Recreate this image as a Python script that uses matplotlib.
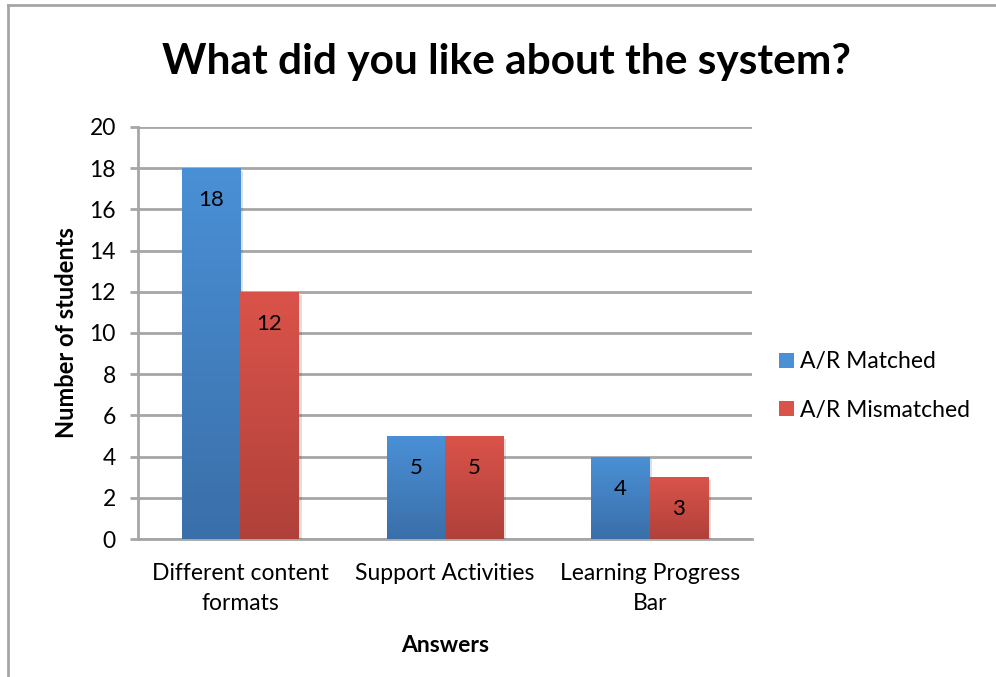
import matplotlib
matplotlib.use("Agg")
import matplotlib.pyplot as plt
import numpy as np
from matplotlib.colors import LinearSegmentedColormap
from matplotlib.lines import Line2D
from matplotlib.patches import Patch
import matplotlib.patheffects as pe

plt.rcParams['font.family'] = ['Lato', 'DejaVu Sans']

# data
categories = ["Different content\nformats", "Support Activities", "Learning Progress\nBar"]
matched = [18, 5, 4]
mismatched = [12, 5, 3]
series_names = ["A/R Matched", "A/R Mismatched"]

blue_top, blue_bot = "#4a90d6", "#3a6fa9"
red_top, red_bot = "#da534a", "#b0413a"
grid_col = "#a6a6a6"

fig = plt.figure(figsize=(9.96, 6.77), dpi=100)
ax = fig.add_axes([138 / 996, 1 - 539 / 677, (752 - 138) / 996, (539 - 127) / 677])

x = np.arange(len(categories))
w = 1 / 3.5

shadow = [pe.SimplePatchShadow(offset=(2, -2), shadow_rgbFace="#000000", alpha=0.12), pe.Normal()]
b1 = ax.bar(x - w / 2, matched, w, color=blue_top, zorder=3, path_effects=shadow)
b2 = ax.bar(x + w / 2, mismatched, w, color=red_top, zorder=3, path_effects=shadow)

grad = np.linspace(0, 1, 256).reshape(-1, 1)
for bars, top, bot in [(b1, blue_top, blue_bot), (b2, red_top, red_bot)]:
    cmap = LinearSegmentedColormap.from_list("g", [top, bot])
    for p in bars:
        x0, y0 = p.get_x(), p.get_y()
        x1, y1 = x0 + p.get_width(), y0 + p.get_height()
        im = ax.imshow(grad, extent=[x0, x1, y0, y1], aspect="auto", cmap=cmap,
                       origin="upper", zorder=3.5, interpolation="bilinear")
        im.set_clip_path(p)

for bars, vals in [(b1, matched), (b2, mismatched)]:
    for p, v in zip(bars, vals):
        ax.annotate(str(v), (p.get_x() + p.get_width() / 2, p.get_height()),
                    xytext=(0, -23), textcoords="offset points",
                    ha="center", va="center", fontsize=16, color="black", zorder=5)

ax.set_xlim(-0.5, 2.5)
ax.set_ylim(0, 20)
ax.set_yticks(range(0, 21, 2))
ax.set_xticks(x)
ax.set_xticklabels(categories, fontsize=16.5, linespacing=1.55)
ax.tick_params(axis="y", labelsize=16.5, length=6, width=2, color=grid_col, pad=10)
ax.tick_params(axis="x", length=0, pad=17)
ax.grid(axis="y", color=grid_col, linewidth=2, zorder=0)
ax.set_axisbelow(True)
for s in ["top", "right"]:
    ax.spines[s].set_visible(False)
for s in ["left", "bottom"]:
    ax.spines[s].set_color(grid_col)
    ax.spines[s].set_linewidth(2)

ax.set_ylabel("Number of students", fontsize=17, fontweight="bold", labelpad=8)
ax.set_xlabel("Answers", fontsize=16.5, fontweight="bold", labelpad=15)

fig.text(506 / 996, 1 - 62 / 677, "What did you like about the system?",
         ha="center", va="center", fontsize=30.5, fontweight="bold")

handles = [Patch(facecolor=blue_top, edgecolor="none"), Patch(facecolor=red_top, edgecolor="none")]
fig.legend(handles, series_names, loc="center left", bbox_to_anchor=(758 / 996, 1 - 386 / 677),
           frameon=False, fontsize=16.5, handlelength=0.65, handleheight=0.65,
           handletextpad=0.3, labelspacing=1.2)

# chart frame (top and left edges visible)
fig.add_artist(Line2D([8 / 996, 8 / 996], [0, 1 - 5 / 677], color=grid_col, linewidth=2,
                      transform=fig.transFigure))
fig.add_artist(Line2D([8 / 996, 1], [1 - 5 / 677, 1 - 5 / 677], color=grid_col, linewidth=2,
                      transform=fig.transFigure))

fig.savefig("out.png", dpi=100)
